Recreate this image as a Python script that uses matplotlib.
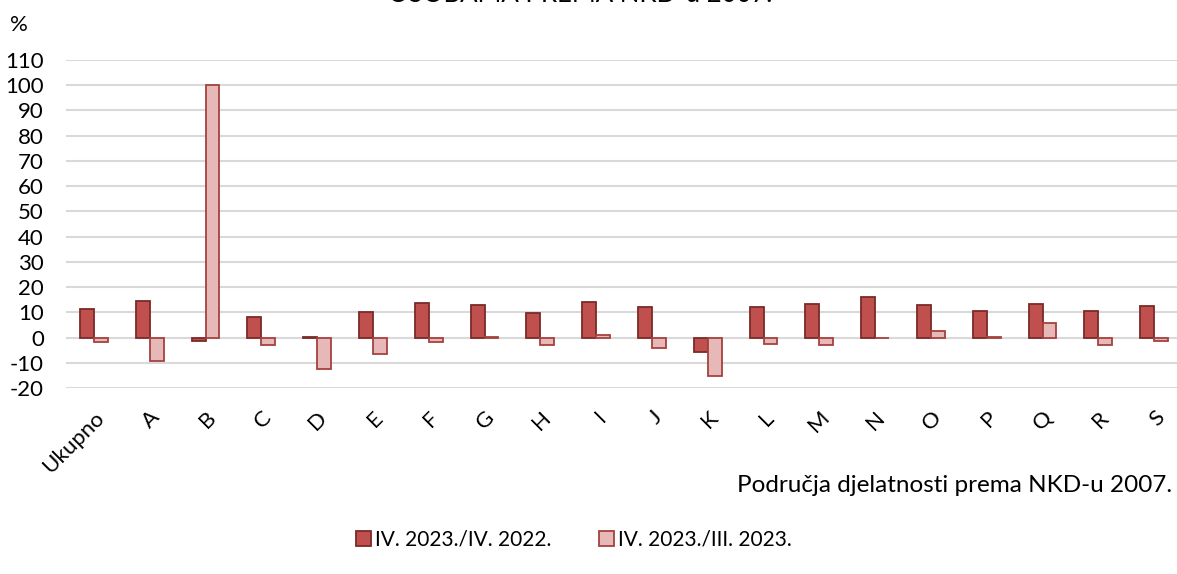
import matplotlib
matplotlib.use("Agg")
import matplotlib.pyplot as plt
import numpy as np

categories = ["Ukupno", "A", "B", "C", "D", "E", "F", "G", "H", "I",
              "J", "K", "L", "M", "N", "O", "P", "Q", "R", "S"]
series_1_label = "IV. 2023./IV. 2022."
series_2_label = "IV. 2023./III. 2023."
series_1 = [11.2, 14.3, -1.4, 8.0, 0.4, 10.1, 13.6, 12.9, 9.6, 14.1,
            12.0, -5.8, 12.2, 13.2, 16.0, 12.8, 10.7, 13.4, 10.5, 12.4]
series_2 = [-1.7, -9.3, 100.0, -3.0, -12.4, -6.6, -1.7, 0.1, -2.8, 0.9,
            -4.1, -15.3, -2.5, -2.8, -0.2, 2.5, 0.3, 5.9, -2.9, -1.4]
y_ticks = list(range(-20, 111, 10))

plt.rcParams['font.family'] = ['Lato', 'DejaVu Sans']

fig = plt.figure(figsize=(11.77, 5.74), dpi=100)
ax = fig.add_axes([66/1177, 1 - 388/574, 1116/1177, (388 - 60)/574])

x = np.arange(len(categories))
w = 0.25
ax.bar(x - w/2, series_1, width=w, color="#C0504D", edgecolor="#7A2A28",
       linewidth=1.3, label=series_1_label, zorder=3)
ax.bar(x + w/2, series_2, width=w, color="#E6B9B8", edgecolor="#A5413F",
       linewidth=1.3, label=series_2_label, zorder=3)

ax.set_xlim(-0.5, len(categories) - 0.5)
ax.set_ylim(-20, 110)
ax.set_yticks(y_ticks)
ax.set_yticklabels([str(v) for v in y_ticks], fontsize=16)
ax.grid(axis='y', color="#D9D9D9", linewidth=1.5, zorder=0)
ax.set_axisbelow(True)
for s in ax.spines.values():
    s.set_visible(False)
ax.tick_params(axis='both', length=0)
ax.tick_params(axis='y', pad=16)
ax.set_xticks(x)
ax.set_xticklabels(categories, rotation=45, ha='right', rotation_mode='anchor',
                   fontsize=16)
ax.tick_params(axis='x', pad=14)

fig.text(10/1177, 1 - 25/574, "%", fontsize=16, va='center', ha='left')
fig.text(1172/1177, 1 - 486/574, "Područja djelatnosti prema NKD-u 2007.",
         fontsize=17.5, ha='right', va='center')
fig.text(580/1177, 1 + 6/574, "OSOBAMA PREMA NKD-u 2007.", fontsize=18.5,
         ha='center', va='center')

leg = fig.legend(loc='center', bbox_to_anchor=(574/1177, 1 - 540/574), ncol=2,
                 frameon=False, fontsize=15, handlelength=0.7, handleheight=0.7,
                 handletextpad=0.2, columnspacing=2.3)

fig.savefig("out.png", dpi=100)
